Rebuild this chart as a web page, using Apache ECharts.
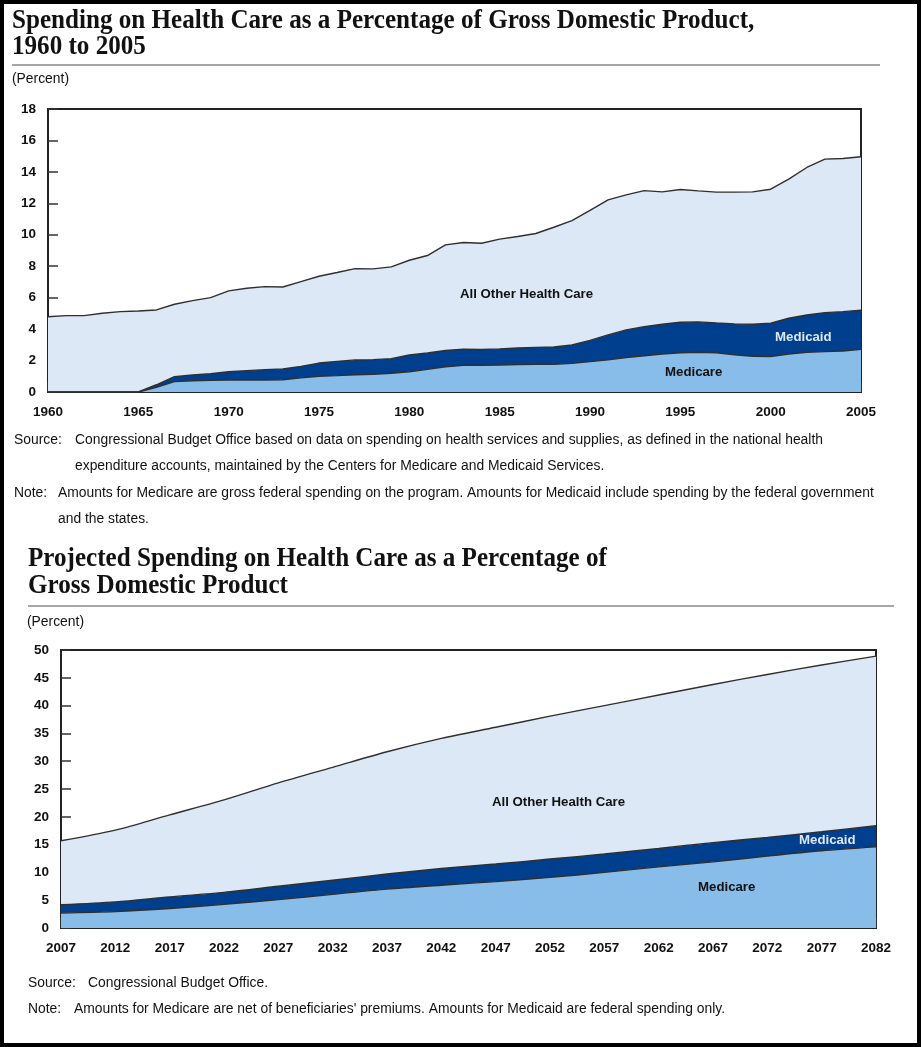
<!DOCTYPE html>
<html><head><meta charset="utf-8">
<script src="https://cdn.jsdelivr.net/npm/echarts@6/dist/echarts.min.js"></script>
<style>html,body{margin:0;padding:0;background:#fff}#c{width:921px;height:1047px}</style>
</head><body><div id="c"></div>
<script>
// ---- Historical chart (1960-2005), percent of GDP ----
const histYears = ['1960','1961','1962','1963','1964','1965','1966','1967','1968','1969','1970','1971','1972','1973','1974','1975','1976','1977','1978','1979','1980','1981','1982','1983','1984','1985','1986','1987','1988','1989','1990','1991','1992','1993','1994','1995','1996','1997','1998','1999','2000','2001','2002','2003','2004','2005'];
const medicareHist = [0,0,0,0,0,0,0.30,0.66,0.72,0.74,0.76,0.76,0.76,0.78,0.90,1.00,1.04,1.10,1.12,1.19,1.29,1.44,1.61,1.70,1.70,1.72,1.74,1.76,1.76,1.82,1.93,2.04,2.19,2.31,2.42,2.50,2.52,2.50,2.36,2.27,2.25,2.42,2.52,2.57,2.61,2.72];
const medicaidHist = [0,0,0,0,0,0,0.16,0.32,0.36,0.43,0.53,0.60,0.66,0.68,0.73,0.84,0.91,0.94,0.94,0.93,1.06,1.04,1.04,1.02,1.00,1.02,1.06,1.08,1.10,1.17,1.35,1.59,1.76,1.85,1.89,1.94,1.94,1.89,1.97,2.04,2.12,2.27,2.38,2.48,2.50,2.48];
const otherHist = [4.79,4.86,4.86,5.01,5.11,5.15,4.76,4.60,4.73,4.83,5.14,5.24,5.28,5.22,5.39,5.52,5.65,5.81,5.77,5.84,6.03,6.20,6.71,6.79,6.76,6.98,7.09,7.24,7.62,7.91,8.27,8.59,8.59,8.65,8.42,8.44,8.33,8.32,8.38,8.42,8.53,8.85,9.38,9.76,9.74,9.76];
const histTicks = [0,2,4,6,8,10,12,14,16,18];

// ---- Projected chart (2007-2082), percent of GDP ----
const projYears = ['2007','2012','2017','2022','2027','2032','2037','2042','2047','2052','2057','2062','2067','2072','2077','2082'];
const medicareProj = [2.7,2.95,3.5,4.25,5.1,6.05,7.0,7.7,8.35,9.1,10.0,11.0,11.9,12.95,13.9,14.6];
const medicaidProj = [1.5,1.75,2.1,2.15,2.4,2.55,2.7,3.0,3.15,3.3,3.3,3.3,3.45,3.35,3.4,3.8];
const otherProj = [11.5,12.9,14.75,16.65,18.6,20.3,22.0,23.4,24.6,25.7,26.7,27.6,28.45,29.3,30.0,30.5];
const projTicks = [0,5,10,15,20,25,30,35,40,45,50];

const seriesNames = ['Medicare','Medicaid','All Other Health Care'];
const colors = {medicare:'#88bce9', medicaid:'#003f8e', other:'#dce8f5', line:'#2f2f2f'};

const chart = echarts.init(document.getElementById('c'), null, {renderer:'canvas'});
const SANS = 'Liberation Sans';
const SERIF = 'Liberation Serif';

function yAxis(gi, ticks){
  return {type:'value', gridIndex:gi, min:ticks[0], max:ticks[ticks.length-1], interval:ticks[1]-ticks[0],
    splitLine:{show:false},
    axisLine:{show:true, lineStyle:{color:'#222', width:2}},
    axisTick:{show:true, inside:true, length:10, lineStyle:{color:'#333', width:1.5}},
    axisLabel:{margin:12, color:'#111', fontFamily:SANS, fontWeight:'bold', fontSize:13.5}};
}
function xAxis(gi, cats, every){
  return {type:'category', gridIndex:gi, data:cats, boundaryGap:false,
    axisLine:{show:true, lineStyle:{color:'#222', width:2}},
    axisTick:{show:true, inside:true, length:10, interval:(i)=> i % every === 0, lineStyle:{color:'#333', width:1.5}},
    axisLabel:{interval:(i)=> i % every === 0, margin:13, color:'#111', fontFamily:SANS, fontWeight:'bold', fontSize:13.5}};
}
function area(name, gi, data, color, stack, smooth){
  return {name, type:'line', xAxisIndex:gi, yAxisIndex:gi, stack, data, symbol:'none', smooth,
    lineStyle:{color:colors.line, width:1.4}, areaStyle:{color, opacity:1}, itemStyle:{color}, z:2};
}
function txt(x, y, text, o){
  o = o || {};
  return {type:'text', x, y, scaleX:o.sx||1, z:10,
    style:{text, fontFamily:o.ff||SANS, fontSize:o.fs||13, fontWeight:o.fw||'normal', fill:o.fill||'#111',
      align:o.align||'left', verticalAlign:'middle'}};
}
const titleOpt = {ff:SERIF, fs:27, fw:'bold', sx:0.93};
const noteOpt = {fs:14, sx:0.99};
const labOpt = {fw:'bold', fs:13.5, sx:0.98};

chart.setOption({
  animation:false,
  grid:[
    {left:48, top:109, width:813, height:283, show:true, borderColor:'#222', borderWidth:2, backgroundColor:'#fff'},
    {left:61, top:650, width:815, height:278, show:true, borderColor:'#222', borderWidth:2, backgroundColor:'#fff'}
  ],
  xAxis:[xAxis(0, histYears, 5), xAxis(1, projYears, 1)],
  yAxis:[yAxis(0, histTicks), yAxis(1, projTicks)],
  series:[
    area(seriesNames[0], 0, medicareHist, colors.medicare, 'h', false),
    area(seriesNames[1], 0, medicaidHist, colors.medicaid, 'h', false),
    area(seriesNames[2], 0, otherHist, colors.other, 'h', false),
    area(seriesNames[0], 1, medicareProj, colors.medicare, 'p', 0.3),
    area(seriesNames[1], 1, medicaidProj, colors.medicaid, 'p', 0.3),
    area(seriesNames[2], 1, otherProj, colors.other, 'p', 0.3)
  ],
  graphic:[
    {type:'rect', shape:{x:0,y:0,width:921,height:1047}, style:{fill:'none', stroke:'#000', lineWidth:8}, z:20},
    txt(12, 21, 'Spending on Health Care as a Percentage of Gross Domestic Product,', titleOpt),
    txt(12, 47, '1960 to 2005', titleOpt),
    {type:'line', shape:{x1:12,y1:65,x2:880,y2:65}, style:{stroke:'#8a8a8a', lineWidth:1.5}},
    txt(12, 79, '(Percent)', noteOpt),
    txt(460, 294, 'All Other Health Care', labOpt),
    txt(775, 337, 'Medicaid', Object.assign({}, labOpt, {fill:'#dce8f5'})),
    txt(665, 372, 'Medicare', labOpt),
    txt(14, 440, 'Source:', noteOpt),
    txt(75, 440, 'Congressional Budget Office based on data on spending on health services and supplies, as defined in the national health', noteOpt),
    txt(75, 466, 'expenditure accounts, maintained by the Centers for Medicare and Medicaid Services.', noteOpt),
    txt(14, 493, 'Note:', noteOpt),
    txt(58, 493, 'Amounts for Medicare are gross federal spending on the program. Amounts for Medicaid include spending by the federal government', noteOpt),
    txt(58, 519, 'and the states.', noteOpt),
    txt(28, 559, 'Projected Spending on Health Care as a Percentage of', titleOpt),
    txt(28, 586, 'Gross Domestic Product', titleOpt),
    {type:'line', shape:{x1:28,y1:606,x2:894,y2:606}, style:{stroke:'#8a8a8a', lineWidth:1.5}},
    txt(27, 622, '(Percent)', noteOpt),
    txt(492, 802, 'All Other Health Care', labOpt),
    txt(799, 840, 'Medicaid', Object.assign({}, labOpt, {fill:'#dce8f5'})),
    txt(698, 887, 'Medicare', labOpt),
    txt(28, 983, 'Source:', noteOpt),
    txt(88, 983, 'Congressional Budget Office.', noteOpt),
    txt(28, 1009, 'Note:', noteOpt),
    txt(74, 1009, 'Amounts for Medicare are net of beneficiaries\' premiums. Amounts for Medicaid are federal spending only.', noteOpt)
  ]
});
</script></body></html>
